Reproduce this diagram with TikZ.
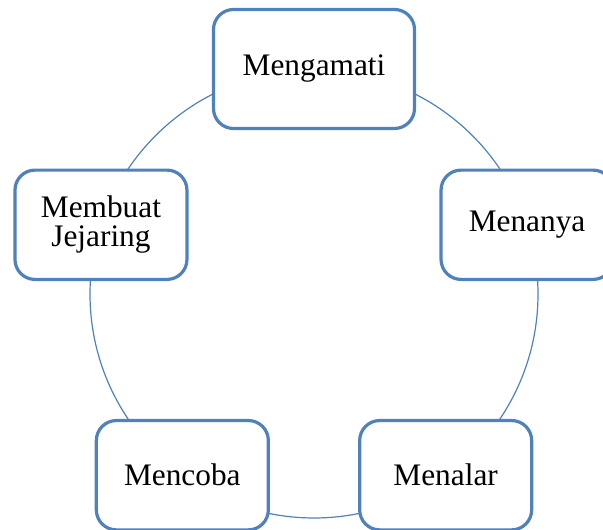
\documentclass[tikz,border=0pt]{standalone}
\usepackage{fontspec}
\setmainfont{Liberation Serif}
\usetikzlibrary{positioning}
\definecolor{cycleblue}{HTML}{4F81BD}

\begin{document}
\begin{tikzpicture}[x=0.75pt, y=0.75pt,
  phase/.style={draw=cycleblue, line width=2.4pt, fill=white,
    rounded corners=15pt, minimum width=129pt, minimum height=82pt,
    inner sep=0pt, align=center, font=\fontsize{23.5}{22}\selectfont}]
  \clip (0,0) rectangle (603,530);
  \begin{scope}[shift={(314,236)}]
    % Ring behind the steps
    \draw[cycleblue, line width=0.9pt] (0,0) circle[radius=168pt];
    % Steps
    \node[phase, minimum width=150.75pt, minimum height=89.25pt] (mengamati) at (90:225) {Mengamati};
    \node[phase] (menanya) at (18:224) {Menanya};
    \node[phase] (menalar) at (306:224) {Menalar};
    \node[phase] (mencoba) at (234:224) {Mencoba};
    \node[phase] (jejaring) at (162:224) {Membuat\\Jejaring};
  \end{scope}
\end{tikzpicture}
\end{document}
